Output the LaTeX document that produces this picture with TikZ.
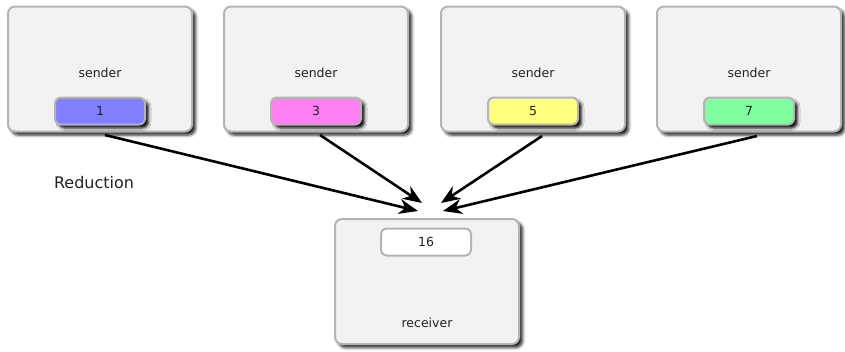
\documentclass[tikz,border=0pt]{standalone}
\usepackage{fontspec}
\setmainfont{DejaVu Sans}
\usetikzlibrary{arrows.meta,shadows.blur}
\definecolor{boxfill}{HTML}{F2F2F2}
\definecolor{boxline}{HTML}{B4B4B4}
\definecolor{txt}{HTML}{222222}
\definecolor{cblue}{HTML}{8080FF}
\definecolor{cpink}{HTML}{FF80F0}
\definecolor{cyellow}{HTML}{FFFF80}
\definecolor{cgreen}{HTML}{80FFA0}
\tikzset{
  pc/.style={draw=boxline, fill=boxfill, line width=2pt, rounded corners=7pt,
    minimum width=184pt, minimum height=125pt, inner sep=0pt,
    blur shadow={shadow xshift=3.5pt, shadow yshift=-3.5pt, shadow blur radius=3pt, shadow opacity=90}},
  val/.style={draw=boxline, line width=2pt, rounded corners=6pt, text=txt,
    minimum width=90pt, minimum height=27pt, inner sep=0pt, font=\fontsize{12.5}{14}\selectfont},
  valsh/.style={val, blur shadow={shadow xshift=3.5pt, shadow yshift=-3.5pt, shadow blur radius=2.5pt, shadow opacity=95}},
  lbl/.style={font=\fontsize{12.5}{14}\selectfont, inner sep=0pt, text=txt},
  arr/.style={line width=2.6pt, -{Stealth[length=19pt,width=15pt,inset=6pt]}}
}
\begin{document}
\begin{tikzpicture}[x=1pt,y=-1pt]
\useasboundingbox (0,0) rectangle (845,351);
\node[pc] (s1) at (100,69) {};
\node[pc] (s2) at (316,69) {};
\node[pc] (s3) at (533,69) {};
\node[pc] (s4) at (749,69) {};
\node[lbl] (t1) at (100,73) {sender};
\node[lbl] (t2) at (316,73) {sender};
\node[lbl] (t3) at (533,73) {sender};
\node[lbl] (t4) at (749,73) {sender};
\node[valsh, fill=cblue] (v1) at (100,111) {1};
\node[valsh, fill=cpink] (v2) at (316,111) {3};
\node[valsh, fill=cyellow] (v3) at (533,111) {5};
\node[valsh, fill=cgreen] (v4) at (749,111) {7};
\node[pc] (r) at (427,281.5) {};
\node[val, fill=white] (rv) at (426,242) {16};
\node[lbl] (rt) at (427,323) {receiver};
\node[font=\fontsize{16}{18}\selectfont, inner sep=0pt, text=txt] (red) at (94,183) {Reduction};
\coordinate (a1) at (105,135);
\coordinate (a2) at (320,135);
\coordinate (a3) at (542,136);
\coordinate (a4) at (757,136);
\coordinate (e1) at (418,211);
\coordinate (e2) at (422,203);
\coordinate (e3) at (441,203);
\coordinate (e4) at (443,211);
\draw[arr] (a1) -- (e1);
\draw[arr] (a2) -- (e2);
\draw[arr] (a3) -- (e3);
\draw[arr] (a4) -- (e4);
\end{tikzpicture}
\end{document}
